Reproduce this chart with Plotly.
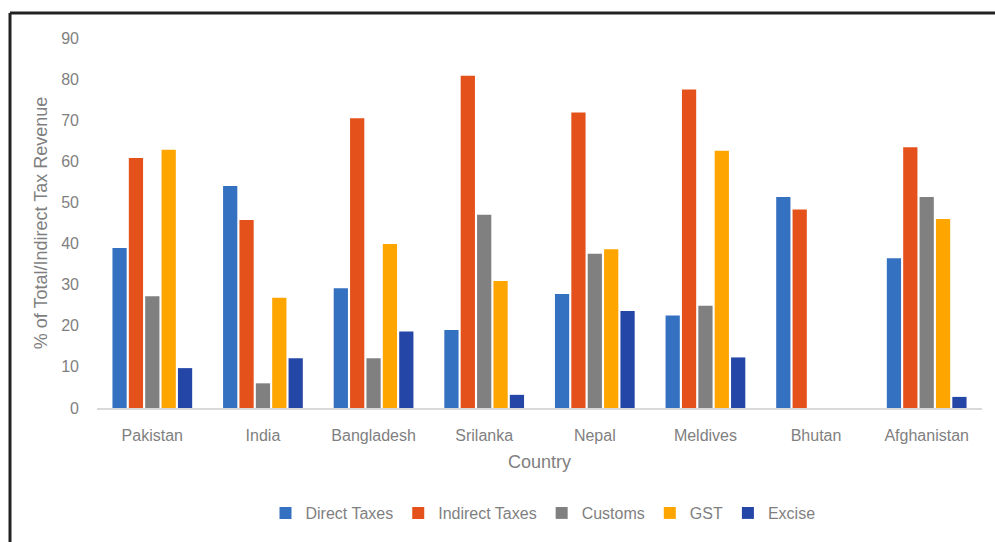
import plotly.graph_objects as go

countries = ["Pakistan", "India", "Bangladesh", "Srilanka", "Nepal", "Meldives", "Bhutan", "Afghanistan"]
direct_taxes = [38.9, 54.0, 29.1, 19.0, 27.7, 22.5, 51.3, 36.4]
indirect_taxes = [60.8, 45.7, 70.5, 80.8, 71.9, 77.5, 48.3, 63.4]
customs = [27.2, 6.0, 12.1, 47.0, 37.5, 24.9, None, 51.3]
gst = [62.8, 26.8, 39.9, 30.9, 38.6, 62.6, None, 46.0]
excise = [9.7, 12.1, 18.6, 3.2, 23.6, 12.3, None, 2.7]
y_ticks = [0, 10, 20, 30, 40, 50, 60, 70, 80, 90]

series = [
    ("Direct Taxes", direct_taxes, "#3571C1"),
    ("Indirect Taxes", indirect_taxes, "#E4511A"),
    ("Customs", customs, "#808080"),
    ("GST", gst, "#FFA500"),
    ("Excise", excise, "#2446A6"),
]

fig = go.Figure()
for name, vals, color in series:
    fig.add_trace(go.Bar(name=name, x=countries, y=vals, marker_color=color,
                         marker_line_width=0))

W, H = 995, 542
L, R, T, B = 97, 13, 38, 134
pw = W - L - R
ph = H - T - B

def px_x(p):
    return (p - L) / pw

def px_y(p):
    return (H - B - p) / ph

font_family = "Liberation Sans, Arial, sans-serif"
gray = "#7f7f7f"

fig.update_layout(
    width=W, height=H,
    margin=dict(l=L, r=R, t=T, b=B),
    paper_bgcolor="white", plot_bgcolor="white",
    barmode="group", bargap=0.26, bargroupgap=0.13,
    font=dict(family=font_family, size=16, color=gray),
    legend=dict(orientation="h", x=px_x(543), xanchor="center",
                y=px_y(513), yanchor="middle",
                font=dict(size=16, color=gray), itemwidth=30,
                traceorder="normal"),
    xaxis=dict(showgrid=False, showline=True, linecolor="#d9d9d9", linewidth=2,
               ticks="", ticklabelstandoff=12, tickfont=dict(size=16),
               title=dict(text="Country", standoff=12, font=dict(size=18, color=gray))),
    yaxis=dict(range=[0, 90], tickvals=y_ticks, showgrid=False, zeroline=False,
               showline=False, ticks="", ticklabelstandoff=17, tickfont=dict(size=16),
               title=dict(text="% of Total/Indirect Tax Revenue", standoff=8,
                          font=dict(size=18, color=gray))),
    shapes=[
        dict(type="line", xref="paper", yref="paper",
             x0=px_x(10), x1=px_x(1000), y0=px_y(13), y1=px_y(13),
             line=dict(color="#222222", width=3)),
        dict(type="line", xref="paper", yref="paper",
             x0=px_x(10), x1=px_x(10), y0=px_y(13), y1=px_y(550),
             line=dict(color="#222222", width=3)),
    ],
)

fig.write_html("out.html")
